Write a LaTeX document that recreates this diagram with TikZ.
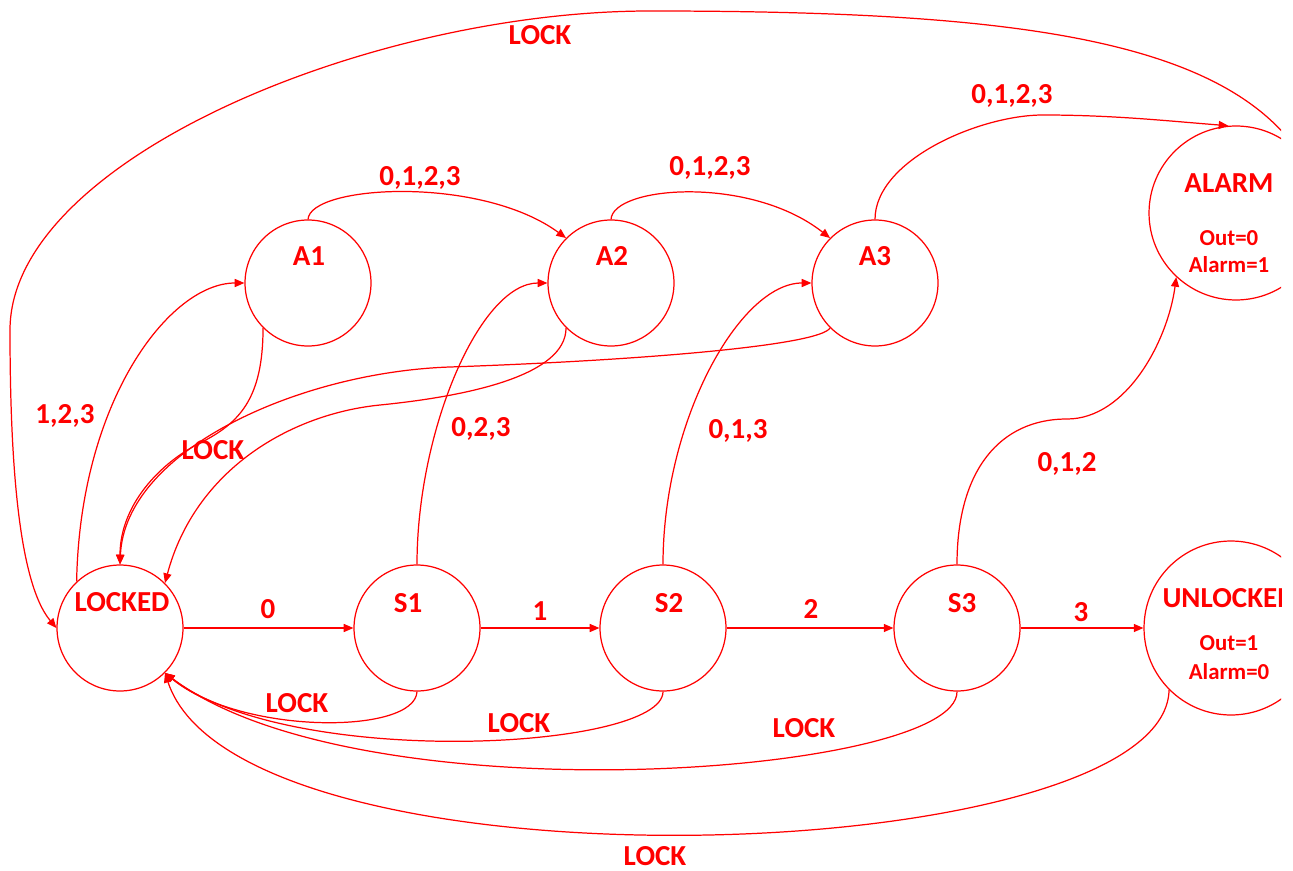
\documentclass[tikz,border=0pt]{standalone}
\usepackage{fontspec}
\setmainfont{Carlito}
\usetikzlibrary{arrows.meta}
\begin{document}
\begin{tikzpicture}[x=0.02cm,y=-0.02cm,
  st/.style={circle,draw=red,line width=0.7pt,minimum size=2.52cm,inner sep=0pt},
  bigst/.style={st,minimum size=3.48cm},
  lab/.style={text=red,inner sep=0pt,font=\fontsize{16.5}{18}\selectfont\bfseries,text height=10.4pt,text depth=0pt},
  subl/.style={text=red,inner sep=0pt,font=\fontsize{13}{15}\selectfont\bfseries,text height=8.2pt,text depth=0pt},
  arr/.style={draw=red,line width=0.7pt,-{Triangle[length=5.5pt,width=4.6pt]}}
]
\useasboundingbox (0,0) rectangle (1293,871);
\begin{scope}
\clip (0,0) rectangle (1281,871);
% states
\node[st] (LOCKED) at (120,628) {};
\node[st] (S1) at (417,628) {};
\node[st] (S2) at (663,628) {};
\node[st] (S3) at (957,628) {};
\node[bigst] (UNLOCKED) at (1231,628) {};
\node[st] (A1) at (308,283) {};
\node[st] (A2) at (611,283) {};
\node[st] (A3) at (875,283) {};
\node[bigst] (ALARM) at (1236,213) {};
% state texts
\node[lab] (tLOCKED) at (122,602) {LOCKED};
\node[lab] (tS1) at (408,603) {S1};
\node[lab] (tS2) at (669,603) {S2};
\node[lab] (tS3) at (962,603) {S3};
\node[lab] (tA1) at (309,256) {A1};
\node[lab] (tA2) at (612,256) {A2};
\node[lab] (tA3) at (875,256) {A3};
\node[lab] (tALARM) at (1229,183) {ALARM};
\node[subl] (tAo) at (1229,238) {Out=0};
\node[subl] (tAa) at (1229,265) {Alarm=1};
\node[lab] (tUNL) at (1229,598) {UNLOCKED};
\node[subl] (tUo) at (1229,643) {Out=1};
\node[subl] (tUa) at (1229,672) {Alarm=0};
% main chain
\draw[arr] (LOCKED) -- (S1);
\draw[arr] (S1) -- (S2);
\draw[arr] (S2) -- (S3);
\draw[arr] (S3) -- (UNLOCKED);
% to alarm chain
\draw[arr] (LOCKED.133) .. controls (80,400) and (170,283) .. (A1.west);
\draw[arr] (S1.north) .. controls (417,430) and (480,283) .. (A2.west);
\draw[arr] (S2.north) .. controls (663,420) and (740,283) .. (A3.west);
\draw[arr] (S3.north) .. controls (957,470) and (1000,419) .. (1067,419) .. controls (1127,419) and (1168,340) .. (ALARM.227);
\draw[arr] (A1.north) .. controls (310,185) and (480,175) .. (A2.135);
\draw[arr] (A2.north) .. controls (613,186) and (750,175) .. (A3.135);
\draw[arr] (A3.north) .. controls (875,160) and (980,115) .. (1043,115) .. controls (1113,115) and (1168,121) .. (ALARM.95);
% LOCK returns
\draw[arr] (ALARM.45) .. controls (1217,36) and (1000,11) .. (650,11) .. controls (370,11) and (10,160) .. (10,330) .. controls (10,450) and (17,581) .. (LOCKED.west);
\draw[arr] (A1.225) .. controls (263,398) and (240,423) .. (200,443) .. controls (160,463) and (120,505) .. (LOCKED.north);
\draw[arr] (A2.225) .. controls (566,375) and (470,396) .. (380,405) .. controls (290,414) and (195,470) .. (LOCKED.45);
\draw[arr] (A3.225) .. controls (820,345) and (650,360) .. (450,367) .. controls (300,372) and (125,450) .. (LOCKED.north);
\draw[arr] (S1.south) .. controls (415,735) and (240,735) .. (LOCKED.-45);
\draw[arr] (S2.south) .. controls (663,750) and (290,770) .. (LOCKED.-45);
\draw[arr] (S3.south) .. controls (958,775) and (360,820) .. (LOCKED.-45);
\draw[arr] (UNLOCKED.225) .. controls (1165,870) and (240,900) .. (LOCKED.-45);
% edge labels
\node[lab] (l0) at (268,609) {0};
\node[lab] (l1) at (540,611) {1};
\node[lab] (l2) at (811,609) {2};
\node[lab] (l3) at (1081,612) {3};
\node[lab] (l123) at (65,414) {1,2,3};
\node[lab] (l023) at (481,427) {0,2,3};
\node[lab] (l013) at (738,429) {0,1,3};
\node[lab] (l012) at (1067,462) {0,1,2};
\node[lab] (la12) at (420,176) {0,1,2,3};
\node[lab] (la23) at (710,166) {0,1,2,3};
\node[lab] (la3m) at (1012,94) {0,1,2,3};
\node[lab] (lkTop) at (540,35) {LOCK};
\node[lab] (lkA) at (213,450) {LOCK};
\node[lab] (lkS1) at (297,703) {LOCK};
\node[lab] (lkS2) at (519,723) {LOCK};
\node[lab] (lkS3) at (804,728) {LOCK};
\node[lab] (lkU) at (655,856) {LOCK};
\end{scope}
\end{tikzpicture}
\end{document}
